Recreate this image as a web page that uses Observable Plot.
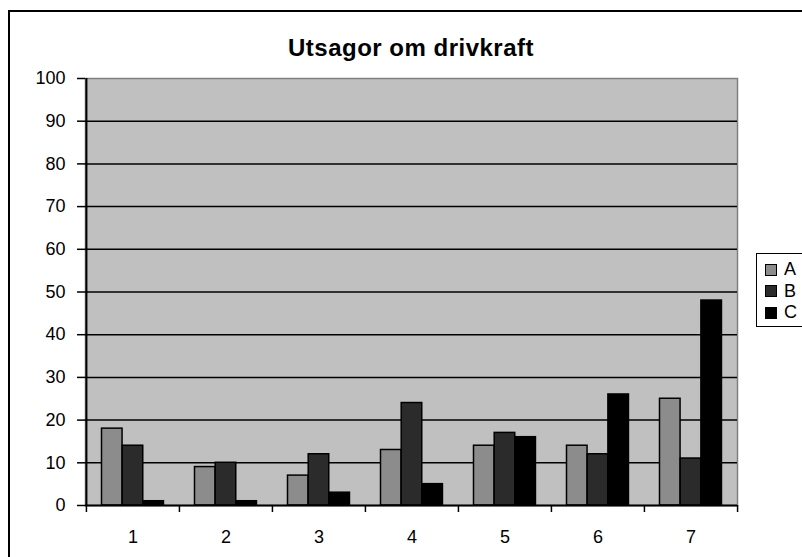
<!DOCTYPE html>
<html>
<head>
<meta charset="utf-8">
<script src="https://cdn.jsdelivr.net/npm/d3@7"></script>
<script src="https://cdn.jsdelivr.net/npm/@observablehq/plot@0.6"></script>
<style>
  html, body { margin: 0; padding: 0; background: #fff; }
  #chart { position: relative; width: 802px; height: 557px; overflow: hidden; font-family: "Liberation Sans", Arial, sans-serif; }
  #border { position: absolute; left: 8px; top: 10px; width: 900px; height: 900px; border: 2px solid #000; box-sizing: border-box; }
  #plot { position: absolute; left: 0; top: 0; }
  #title { position: absolute; left: 0; width: 822px; top: 36px; text-align: center; font-weight: bold; font-size: 24px; line-height: 24px; letter-spacing: 0.5px; color: #000; }
  #legend { position: absolute; left: 756px; top: 253px; width: 80px; height: 74px; border: 1.5px solid #000; background: #fff; padding-top: 4.75px; box-sizing: border-box; }
  .row { height: 21.5px; display: flex; align-items: center; font-size: 18px; }
  .sw { width: 10px; height: 10px; border: 1px solid #000; margin-left: 8px; margin-right: 7px; }
</style>
</head>
<body>
<div id="chart">
  <div id="border"></div>
  <div id="plot"></div>
  <div id="title"></div>
  <div id="legend"></div>
</div>
<script>
const titleText = "Utsagor om drivkraft";
const categories = ["1", "2", "3", "4", "5", "6", "7"];
const seriesNames = ["A", "B", "C"];
const valuesA = [18, 9, 7, 13, 14, 14, 25];
const valuesB = [14, 10, 12, 24, 17, 12, 11];
const valuesC = [1, 1, 3, 5, 16, 26, 48];
const seriesColors = ["#8c8c8c", "#2b2b2b", "#000000"];
const yTicks = [0, 10, 20, 30, 40, 50, 60, 70, 80, 90, 100];

const allValues = [valuesA, valuesB, valuesC];
const data = seriesNames.flatMap((s, i) => categories.map((c, j) => ({cat: c, series: s, value: allValues[i][j]})));

const W = 802, H = 557;
const mL = 85, mR = 65, mT = 78, mB = 52;
const step = (W - mL - mR) / categories.length;
const groupPad = 15.5, barW = 20.7;

const font = "Liberation Sans, Arial, sans-serif";

const bars = seriesNames.map((s, i) => Plot.barY(data.filter(d => d.series === s), {
  x: "cat", y: "value", fill: seriesColors[i], stroke: "#000", strokeWidth: 1.5,
  insetLeft: groupPad + barW * i,
  insetRight: step - groupPad - barW * (i + 1)
}));

const chart = Plot.plot({
  width: W, height: H,
  marginLeft: mL, marginRight: mR, marginTop: mT, marginBottom: mB,
  style: {fontFamily: font, fontSize: "18px", background: "transparent", color: "#000"},
  x: {domain: categories, padding: 0, label: null},
  y: {domain: [0, 100], label: null},
  marks: [
    Plot.frame({fill: "#c0c0c0", stroke: "#808080", strokeWidth: 1.5}),
    Plot.ruleY(yTicks.filter(t => t > 0 && t < 100), {stroke: "#000", strokeWidth: 1.5}),
    ...bars,
    Plot.ruleY([0], {stroke: "#000", strokeWidth: 2}),
    Plot.ruleX([categories[0]], {dx: -step / 2, stroke: "#000", strokeWidth: 2}),
    Plot.axisY({ticks: yTicks, tickSize: 8, tickPadding: 12, strokeWidth: 1.5, fontSize: 18, label: null}),
    Plot.axisX({tickSize: 0, tickPadding: 25, fontSize: 18, label: null}),
    Plot.axisX({tickSize: 7, tickFormat: () => "", dx: -step / 2, strokeWidth: 1.5, label: null}),
    Plot.axisX({ticks: [categories[categories.length - 1]], tickSize: 7, tickFormat: () => "", dx: step / 2, strokeWidth: 1.5, label: null})
  ]
});
document.getElementById("plot").appendChild(chart);
document.getElementById("title").textContent = titleText;

const legend = document.getElementById("legend");
seriesNames.forEach((s, i) => {
  const row = document.createElement("div");
  row.className = "row";
  const sw = document.createElement("div");
  sw.className = "sw";
  sw.style.background = seriesColors[i];
  const t = document.createElement("span");
  t.textContent = s;
  row.appendChild(sw);
  row.appendChild(t);
  legend.appendChild(row);
});
</script>
</body>
</html>
